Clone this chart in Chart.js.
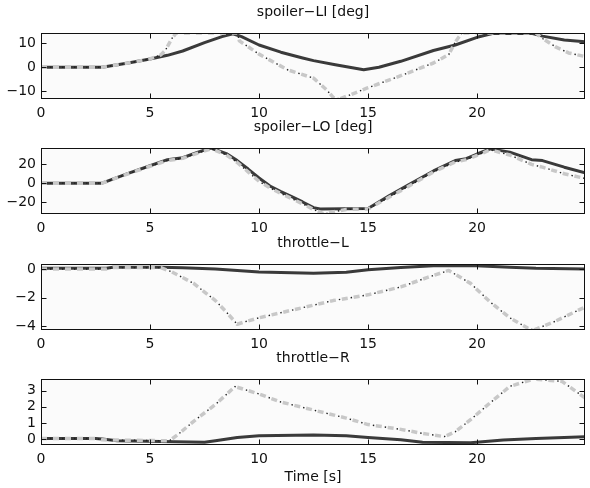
<!DOCTYPE html>
<html><head><meta charset="utf-8">
<script src="https://cdn.jsdelivr.net/npm/chart.js@4.4.1/dist/chart.umd.min.js"></script>
<style>
html,body{margin:0;padding:0;background:#fff;width:590px;height:488px;overflow:hidden}
.p{position:absolute;left:0;width:590px}
</style></head><body>
<div class="p" style="top:0;height:125px"><canvas id="c1"></canvas></div>
<div class="p" style="top:115px;height:125px"><canvas id="c2"></canvas></div>
<div class="p" style="top:231px;height:125px"><canvas id="c3"></canvas></div>
<div class="p" style="top:346px;height:142px"><canvas id="c4"></canvas></div>
<script>
// ---- data ----
const X_TICKS = [0, 5, 10, 15, 20];
const X_MIN = 0, X_MAX = 24.95;

// spoiler-LI [deg]
const LI_TITLE = 'spoiler\u2212LI [deg]';
const LI_YTICKS = [-10, 0, 10];
const LI_RANGE = [-13.2, 14.3];
const LI_SOLID_T = [0, 2.8, 4, 5, 5.8, 6.5, 7.5, 8.3, 8.8, 9.2, 10, 11, 12, 12.5, 13.5, 14.8, 15.5, 16.5, 18, 19, 20, 20.7, 22.5, 23, 24, 24.95];
const LI_SOLID_V = [0, 0, 1.8, 3.5, 5, 6.8, 10.3, 12.8, 14, 12.8, 9.3, 6.3, 3.9, 2.8, 1.1, -1, 0, 2.5, 7, 9.3, 12.5, 14.1, 14.2, 13, 11.4, 10.7];
const LI_DASH_T = [0, 2.8, 4, 5, 5.5, 5.7, 6.0, 6.2, 9.0, 9.1, 10, 11.3, 12.5, 13.1, 13.4, 13.7, 15, 16.5, 18, 18.7, 19.0, 19.3, 22.7, 23, 23.6, 24.2, 24.95];
const LI_DASH_V = [0, 0, 1.8, 3.5, 5.2, 7, 12, 14.3, 14.3, 11, 5.5, -1, -4.5, -9.4, -12.5, -13.2, -8.5, -3.5, 1.8, 5.3, 10.5, 14.3, 14.3, 12, 8.5, 6, 4.5];

// spoiler-LO [deg]
const LO_TITLE = 'spoiler\u2212LO [deg]';
const LO_YTICKS = [-20, 0, 20];
const LO_RANGE = [-32.8, 37.4];
const LO_SOLID_T = [0, 2.8, 4, 5, 5.8, 6.5, 7.2, 7.8, 8.5, 9, 9.5, 10, 10.5, 11, 11.5, 12, 12.5, 12.8, 15, 16, 17, 18, 19, 19.5, 20, 20.6, 21.5, 22.5, 23, 24, 24.95];
const LO_SOLID_V = [0, 0, 10.4, 18.5, 25, 27, 33, 37.4, 31.5, 24, 15, 5.5, -3, -9, -14.4, -20, -26, -27.5, -27, -13, 0, 13, 24, 26, 31, 36.5, 33, 25, 24, 17, 11];
const LO_DASH_T = [0, 2.8, 4, 5, 5.8, 6.5, 7.2, 7.8, 8.5, 9, 9.5, 10, 10.5, 11, 11.5, 12, 12.5, 13, 13.5, 14, 15, 16, 17, 18, 19, 19.5, 20, 20.6, 21.5, 22.5, 23, 24, 24.95];
const LO_DASH_V = [0, 0, 10, 18, 24, 26.5, 32, 36.5, 30, 22, 12, 2, -5, -11, -16.5, -22, -28, -32.8, -30, -28, -27.5, -14.5, -1.5, 12, 22.5, 25, 29.5, 35.5, 30, 20, 17, 10, 5];

// throttle-L
const TL_TITLE = 'throttle\u2212L';
const TL_YTICKS = [-4, -2, 0];
const TL_RANGE = [-4.25, 0.35];
const TL_SOLID_T = [0, 3, 3.3, 5.5, 6.5, 8, 10, 12.5, 14, 15, 16.5, 18, 19.7, 21.5, 22.7, 24.95];
const TL_SOLID_V = [0.05, 0.05, 0.12, 0.12, 0.08, 0, -0.2, -0.3, -0.22, -0.05, 0.1, 0.22, 0.25, 0.13, 0.05, 0];
const TL_DASH_T = [0, 3, 3.3, 5.5, 6, 7, 8, 8.5, 9, 9.3, 10, 11.7, 13.4, 15, 16.5, 17.7, 18.7, 19.7, 20.6, 21.5, 22.3, 22.6, 23.5, 24.95];
const TL_DASH_V = [0, 0, 0.1, 0.1, -0.2, -1.0, -2.2, -3.0, -3.85, -3.7, -3.4, -2.8, -2.2, -1.8, -1.25, -0.6, -0.1, -1.0, -2.3, -3.4, -4.1, -4.25, -3.7, -2.65];

// throttle-R
const TR_TITLE = 'throttle\u2212R';
const TR_YTICKS = [0, 1, 2, 3];
const TR_RANGE = [-0.37, 3.73];
const TR_SOLID_T = [0, 2.5, 2.8, 3.5, 5.5, 7.5, 8, 9, 10, 12.5, 14, 15, 16.5, 17.5, 19.7, 21.2, 22.7, 24, 24.95];
const TR_SOLID_V = [0.03, 0.03, 0, -0.1, -0.15, -0.2, -0.1, 0.1, 0.2, 0.25, 0.2, 0.1, -0.05, -0.2, -0.23, -0.06, 0.04, 0.1, 0.15];
const TR_DASH_T = [0, 2.5, 2.8, 5.5, 5.9, 6.3, 7, 8, 8.9, 10, 11, 12.5, 14, 15, 16.5, 17.5, 18.5, 19, 19.7, 20.6, 21.5, 22.6, 23.9, 24.95];
const TR_DASH_V = [0.03, 0.03, -0.05, -0.1, -0.1, 0.3, 1.1, 2.15, 3.26, 2.8, 2.3, 1.8, 1.3, 0.9, 0.6, 0.35, 0.15, 0.45, 1.2, 2.25, 3.27, 3.73, 3.58, 2.55];

const X_LABEL = 'Time [s]';

// ---- rendering ----
const FONT = "'DejaVu Sans', 'Liberation Sans', Arial, sans-serif";
const FS = 14;
const pts = (T, V) => T.map((t, i) => ({x: t, y: V[i]}));
const fmt = v => String(v).replace('-', '\u2212');

const framePlugin = {
  id: 'frame',
  beforeDatasetsDraw(chart) {
    const {ctx, chartArea: a} = chart;
    ctx.save();
    ctx.fillStyle = '#fbfbfb';
    ctx.fillRect(a.left, a.top, a.width, a.height);
    ctx.restore();
  },
  afterDatasetsDraw(chart) {
    const {ctx, chartArea: a, scales} = chart;
    const L = Math.round(a.left) + 0.5, R = Math.round(a.right) - 0.5;
    const T = Math.round(a.top) + 0.5, B = Math.round(a.bottom) - 0.5;
    ctx.save();
    ctx.strokeStyle = '#111';
    ctx.lineWidth = 1;
    ctx.beginPath();
    scales.x.ticks.forEach(t => {
      const px = Math.round(scales.x.getPixelForValue(t.value)) + 0.5;
      ctx.moveTo(px, B); ctx.lineTo(px, B - 5);
      ctx.moveTo(px, T); ctx.lineTo(px, T + 5);
    });
    scales.y.ticks.forEach(t => {
      const py = Math.round(scales.y.getPixelForValue(t.value)) + 0.5;
      ctx.moveTo(L, py); ctx.lineTo(L + 5, py);
      ctx.moveTo(R, py); ctx.lineTo(R - 5, py);
    });
    ctx.stroke();
    ctx.strokeRect(L, T, R - L, B - T);
    ctx.restore();
  }
};

function makeChart(id, title, yTicks, yRange, sT, sV, dT, dV, last) {
  const dash = pts(dT, dV);
  return new Chart(document.getElementById(id), {
    type: 'line',
    data: {
      datasets: [
        {data: dash, borderColor: '#1e1e1e', borderWidth: 1.4, borderDash: [1.4, 10.6], borderDashOffset: 3, order: 0},
        {data: dash, borderColor: '#c8c8c8', borderWidth: 3.5, borderDash: [6, 6], order: 1},
        {data: pts(sT, sV), borderColor: '#3a3a3a', borderWidth: 3, order: 2}
      ].map(d => Object.assign(d, {pointRadius: 0, tension: 0, fill: false, clip: 0, borderCapStyle: 'butt', borderJoinStyle: 'round'}))
    },
    options: {
      responsive: true,
      maintainAspectRatio: false,
      animation: false,
      events: [],
      layout: {padding: {left: 0, right: 5, top: 0, bottom: 0}},
      plugins: {
        legend: {display: false},
        tooltip: {enabled: false},
        title: {
          display: true, text: title, fullSize: false, color: '#111',
          font: {family: FONT, size: FS, weight: 'normal'},
          padding: {top: 3.6, bottom: 12.6}
        }
      },
      scales: {
        x: {
          type: 'linear', min: X_MIN, max: X_MAX,
          grid: {display: false, drawTicks: false}, border: {display: false},
          afterBuildTicks: s => { s.ticks = X_TICKS.map(v => ({value: v})); },
          afterFit: s => { s.height = last ? 43 : 26; },
          ticks: {padding: 5.5, color: '#111', font: {family: FONT, size: FS}, maxRotation: 0, autoSkip: false, callback: v => fmt(v)},
          title: {display: !!last, text: X_LABEL, color: '#111', font: {family: FONT, size: FS}, padding: {top: 0, bottom: 2.6}}
        },
        y: {
          type: 'linear', min: yRange[0], max: yRange[1],
          grid: {display: false, drawTicks: false}, border: {display: false},
          afterBuildTicks: s => { s.ticks = yTicks.map(v => ({value: v})); },
          afterFit: s => { s.width = 41; },
          ticks: {padding: 5, color: '#111', font: {family: FONT, size: FS}, autoSkip: false, callback: v => fmt(v)}
        }
      }
    },
    plugins: [framePlugin]
  });
}

makeChart('c1', LI_TITLE, LI_YTICKS, LI_RANGE, LI_SOLID_T, LI_SOLID_V, LI_DASH_T, LI_DASH_V, false);
makeChart('c2', LO_TITLE, LO_YTICKS, LO_RANGE, LO_SOLID_T, LO_SOLID_V, LO_DASH_T, LO_DASH_V, false);
makeChart('c3', TL_TITLE, TL_YTICKS, TL_RANGE, TL_SOLID_T, TL_SOLID_V, TL_DASH_T, TL_DASH_V, false);
makeChart('c4', TR_TITLE, TR_YTICKS, TR_RANGE, TR_SOLID_T, TR_SOLID_V, TR_DASH_T, TR_DASH_V, true);
</script>
</body></html>
